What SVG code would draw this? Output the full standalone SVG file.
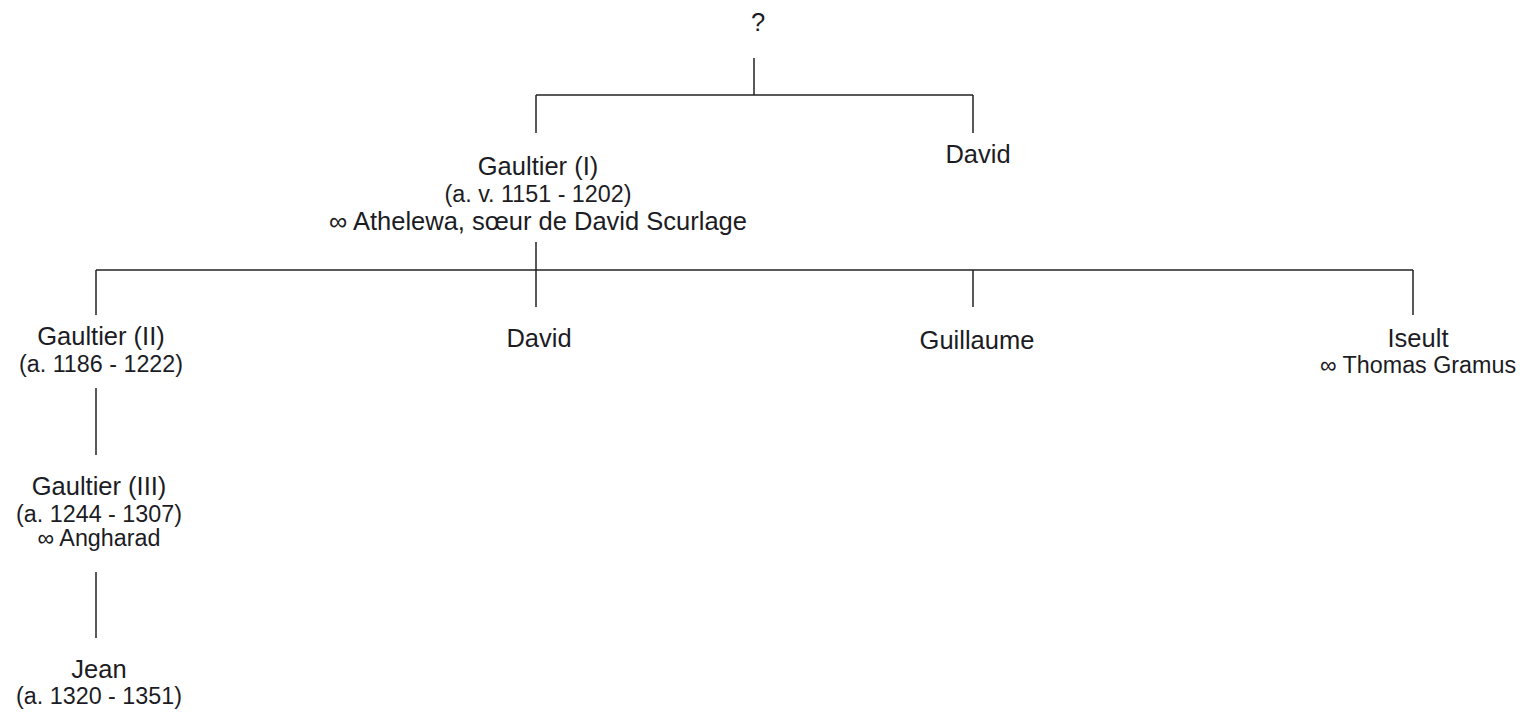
<svg xmlns="http://www.w3.org/2000/svg" width="1523" height="713" viewBox="0 0 1523 713">
<style>
text{font-family:"Liberation Sans",Arial,sans-serif;fill:#1c1c24;text-anchor:middle}
.p{font-size:25.5px}
.s{font-size:23.3px}
.c line{stroke:#222;stroke-width:1.5;fill:none}
</style>
<rect width="1523" height="713" fill="#fff"/>
<g class="c" id="connectors">
<line x1="754" y1="58" x2="754" y2="95"/>
<line x1="536" y1="95" x2="973" y2="95"/>
<line x1="536" y1="95" x2="536" y2="133"/>
<line x1="973" y1="95" x2="973" y2="133"/>
<line x1="536" y1="242" x2="536" y2="307"/>
<line x1="96" y1="270" x2="1413" y2="270"/>
<line x1="96" y1="270" x2="96" y2="315"/>
<line x1="973" y1="270" x2="973" y2="307"/>
<line x1="1413" y1="270" x2="1413" y2="315"/>
<line x1="96" y1="388" x2="96" y2="455"/>
<line x1="96" y1="572" x2="96" y2="638"/>
</g>
<g id="root"><text class="p" x="758" y="31">?</text></g>
<g id="gaultier1">
<text class="p" x="538" y="175">Gaultier (I)</text>
<text class="s" x="538" y="202">(a. v. 1151 - 1202)</text>
<text class="p" x="538" y="230">∞ Athelewa, sœur de David Scurlage</text>
</g>
<g id="david1"><text class="p" x="978" y="163">David</text></g>
<g id="gaultier2">
<text class="p" x="101" y="345">Gaultier (II)</text>
<text class="s" x="101" y="372">(a. 1186 - 1222)</text>
</g>
<g id="david2"><text class="p" x="539" y="347">David</text></g>
<g id="guillaume"><text class="p" x="977" y="349">Guillaume</text></g>
<g id="iseult">
<text class="p" x="1418" y="347">Iseult</text>
<text class="s" x="1418" y="373">∞ Thomas Gramus</text>
</g>
<g id="gaultier3">
<text class="p" x="99" y="495">Gaultier (III)</text>
<text class="s" x="99" y="522">(a. 1244 - 1307)</text>
<text class="s" x="99" y="546">∞ Angharad</text>
</g>
<g id="jean">
<text class="p" x="99" y="678">Jean</text>
<text class="s" x="99" y="704">(a. 1320 - 1351)</text>
</g>
</svg>
